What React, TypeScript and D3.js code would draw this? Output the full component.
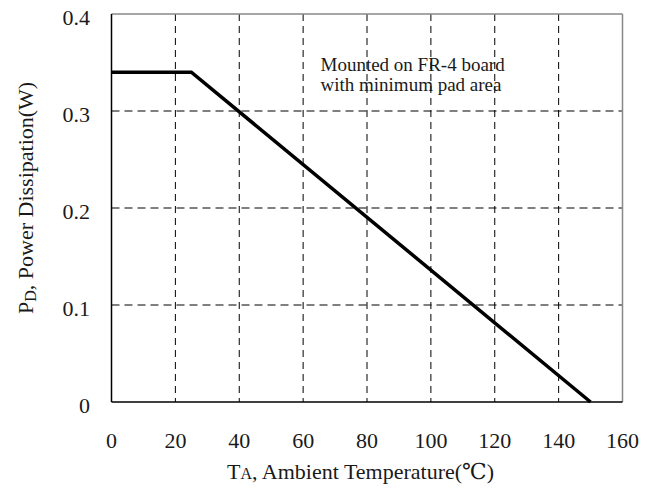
import React from "react";
import * as d3 from "d3";

// Power derating curve: ambient temperature (°C) vs. power dissipation (W)
const tempC = [0, 25, 150];
const powerW = [0.34, 0.34, 0];

const xTicks = [0, 20, 40, 60, 80, 100, 120, 140, 160];
const yTicks = [0, 0.1, 0.2, 0.3, 0.4];
const yTickLabels = ["0", "0.1", "0.2", "0.3", "0.4"];
const noteLines = ["Mounted on FR-4 board", "with minimum pad area"];

const W = 652;
const H = 491;
const plot = { left: 111.5, right: 622.5, top: 14, bottom: 402 };
const font = "'Liberation Serif', 'DejaVu Serif', serif";
const ink = "#1a1a1a";

export default function App() {
  const x = d3.scaleLinear().domain([0, 160]).range([plot.left, plot.right]);
  const y = d3.scaleLinear().domain([0, 0.4]).range([plot.bottom, plot.top]);

  const line = d3
    .line<number>()
    .x((_, i) => x(tempC[i]))
    .y((d) => y(d));

  const innerX = xTicks.filter((t) => t > 0 && t < 160);
  const innerY = yTicks.filter((t) => t > 0 && t < 0.4);

  return (
    <svg
      width={W}
      height={H}
      style={{ position: "absolute", left: 0, top: 0, background: "#fff" }}
      fontFamily={font}
    >
      <rect x={0} y={0} width={W} height={H} fill="#fff" />

      {/* dashed grid */}
      <g stroke="#000" strokeWidth={1} fill="none">
        {innerX.map((t) => (
          <line
            key={"gx" + t}
            x1={x(t)}
            x2={x(t)}
            y1={plot.top}
            y2={plot.bottom}
            strokeDasharray="7,5"
          />
        ))}
        {innerY.map((t) => (
          <line
            key={"gy" + t}
            x1={plot.left}
            x2={plot.right}
            y1={y(t)}
            y2={y(t)}
            strokeDasharray="8,5"
          />
        ))}
      </g>

      {/* frame: top/right light, axes dark */}
      <line x1={plot.left} x2={plot.right} y1={plot.top} y2={plot.top} stroke="#888" strokeWidth={1.5} />
      <line x1={plot.right} x2={plot.right} y1={plot.top} y2={plot.bottom} stroke="#888" strokeWidth={1.5} />
      <line x1={plot.left} x2={plot.left} y1={plot.top} y2={plot.bottom} stroke="#000" strokeWidth={1.5} />
      <line x1={plot.left} x2={plot.right} y1={plot.bottom} y2={plot.bottom} stroke="#000" strokeWidth={1.5} />

      {/* derating curve */}
      <path d={line(powerW) || ""} fill="none" stroke="#000" strokeWidth={3.5} strokeLinejoin="miter" />

      {/* y tick labels */}
      <g fontSize={22} fill={ink} textAnchor="end">
        {yTicks.map((t, i) => (
          <text key={"yl" + t} x={90} y={y(t) + 10.5}>
            {yTickLabels[i]}
          </text>
        ))}
      </g>

      {/* x tick labels */}
      <g fontSize={22} fill={ink} textAnchor="middle">
        {xTicks.map((t) => (
          <text key={"xl" + t} x={x(t)} y={448}>
            {t}
          </text>
        ))}
      </g>

      {/* annotation */}
      <g fontSize={19} fill={ink}>
        {noteLines.map((s, i) => (
          <text key={"n" + i} x={320.5} y={71 + i * 19.5}>
            {s}
          </text>
        ))}
      </g>

      {/* x axis title */}
      <text x={227} y={479} fontSize={22} fill={ink}>
        T<tspan fontSize={16}>A</tspan>, Ambient Temperature(℃)
      </text>

      {/* y axis title */}
      <text
        transform="translate(33,314) rotate(-90)"
        x={0}
        y={0}
        fontSize={22}
        fill={ink}
      >
        P<tspan fontSize={16} dy={3}>D</tspan>
        <tspan dy={-3}>, Power Dissipation(W)</tspan>
      </text>
    </svg>
  );
}
